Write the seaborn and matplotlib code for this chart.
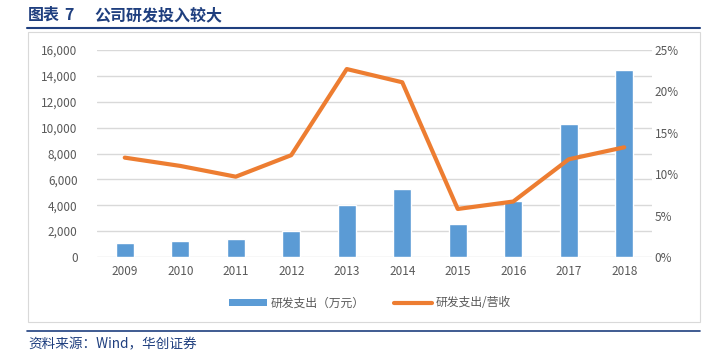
import pandas as pd
import matplotlib.pyplot as plt
import seaborn as sns
from matplotlib.lines import Line2D
from matplotlib.patches import Patch

# Chart data
years = ['2009', '2010', '2011', '2012', '2013', '2014', '2015', '2016', '2017', '2018']
rd_spend = [1050, 1240, 1390, 2000, 4020, 5260, 2550, 4350, 10280, 14450]  # 万元
rd_ratio = [12.0, 11.0, 9.7, 12.3, 22.7, 21.1, 5.8, 6.7, 11.8, 13.25]  # %

df = pd.DataFrame({'year': years, 'spend': rd_spend, 'ratio': rd_ratio})

sns.set_theme(style="white")
plt.rcParams['font.family'] = ['Noto Sans CJK SC', 'DejaVu Sans']

bar_color = '#5B9BD5'
line_color = '#ED7D31'
tick_color = '#595959'
navy = '#1F3F7F'

fig = plt.figure(figsize=(7.07, 3.54), dpi=100)
ax = fig.add_axes([97 / 707, 1 - 257 / 354, 555 / 707, 207 / 354])

sns.barplot(data=df, x='year', y='spend', color=bar_color, width=0.32,
            saturation=1, ax=ax)
ax.set_ylim(0, 16000)
ax.set_yticks(range(0, 16001, 2000))
ax.set_yticklabels([f'{v:,}' for v in range(0, 16001, 2000)])
ax.yaxis.grid(True, color='#D9D9D9', linewidth=1)
ax.set_axisbelow(True)
for s in ax.spines.values():
    s.set_visible(False)
ax.set_xlabel('')
ax.set_ylabel('')
ax.tick_params(axis='both', colors=tick_color, labelsize=8.5, length=0)
ax.tick_params(axis='y', pad=14)
ax.tick_params(axis='x', pad=6)

ax2 = ax.twinx()
sns.lineplot(data=df, x='year', y='ratio', color=line_color, linewidth=3,
             sort=False, ax=ax2)
ax2.set_ylim(0, 25)
ax2.set_yticks(range(0, 26, 5))
ax2.set_yticklabels([f'{v}%' for v in range(0, 26, 5)])
for s in ax2.spines.values():
    s.set_visible(False)
ax2.set_ylabel('')
ax2.tick_params(axis='y', colors=tick_color, labelsize=8.5, length=0, pad=2)
ax2.grid(False)
ax.set_xlim(-0.5, len(years) - 0.5)

# Legend
handles = [Patch(facecolor=bar_color, edgecolor='none'),
           Line2D([0], [0], color=line_color, linewidth=3)]
fig.legend(handles, ['研发支出（万元）', '研发支出/营收'], loc='center',
           bbox_to_anchor=(370 / 707, 1 - 303 / 354), ncol=2, frameon=False,
           fontsize=8.5, labelcolor=tick_color, handlelength=3.2,
           handleheight=0.6, columnspacing=2.5, handletextpad=0.3)

# Frame around chart area
fig.add_artist(plt.Rectangle((28 / 707, 1 - 322 / 354), 672 / 707, 290 / 354,
                             fill=False, edgecolor='#D9D9D9', linewidth=0.8,
                             transform=fig.transFigure))

# Title and rules
fig.text(28 / 707, 1 - 15 / 354, '图表', color=navy,
         fontsize=11.5, fontweight='bold', va='center', ha='left')
fig.text(64 / 707, 1 - 15 / 354, '7', color=navy,
         fontsize=11.5, fontweight='bold', va='center', ha='left')
fig.text(94 / 707, 1 - 15 / 354, '公司研发投入较大', color=navy,
         fontsize=11.5, fontweight='bold', va='center', ha='left')
fig.add_artist(Line2D([27 / 707, 700 / 707], [1 - 28 / 354] * 2, color=navy,
                      linewidth=1.5, transform=fig.transFigure))
fig.add_artist(Line2D([27 / 707, 700 / 707], [1 - 331 / 354] * 2, color=navy,
                      linewidth=1.2, transform=fig.transFigure))
fig.text(28 / 707, 1 - 344 / 354, '资料来源：Wind，华创证券', color=navy,
         fontsize=9.8, style='italic', va='center', ha='left')

plt.savefig('out.png', dpi=100)
